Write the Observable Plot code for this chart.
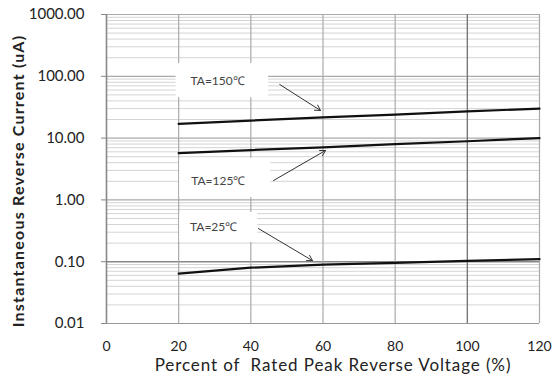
<!DOCTYPE html>
<html><head><meta charset="utf-8">
<script src="https://cdn.jsdelivr.net/npm/d3@7"></script>
<script src="https://cdn.jsdelivr.net/npm/@observablehq/plot@0.6"></script>
<style>body{margin:0;background:#fff} svg{display:block} .spaced text{letter-spacing:0.9px} .spacedy text{letter-spacing:1.2px}</style>
</head><body><div id="chart"></div>
<script>
const voltagePct = [20, 40, 60, 80, 100, 120];
const ta150 = [17, 19.2, 21.6, 24, 27, 30];
const ta125 = [5.7, 6.4, 7.1, 8.0, 8.9, 10.0];
const ta25 = [0.064, 0.080, 0.090, 0.096, 0.103, 0.110];
const seriesNames = ["TA=150℃", "TA=125℃", "TA=25℃"];
const xTicks = [0, 20, 40, 60, 80, 100, 120];
const yTicks = [0.01, 0.1, 1, 10, 100, 1000];
const yTickLabels = ["0.01", "0.10", "1.00", "10.00", "100.00", "1000.00"];
const xTitle = "Percent of  Rated Peak Reverse Voltage (%)";
const yTitle = "Instantaneous Reverse Current (uA)";
// annotation placement (data units)
const labelX = [30.8, 31, 29.7];
const labelY = [85, 2.0, 0.36];
const boxX1 = [19.3, 20.3, 20.3], boxX2 = [44.9, 45.5, 41.9];
const boxY1 = [45, 1.09, 0.205], boxY2 = [161, 4.7, 0.625];
const arrowX1 = [48, 46.3, 42.1], arrowY1 = [73.7, 2.06, 0.344];
const arrowX2 = [59.3, 60.7, 57.1], arrowY2 = [28, 6.3, 0.104];

const seriesVals = [ta150, ta125, ta25];
const lineData = [];
seriesNames.forEach((s, i) => voltagePct.forEach((x, j) => lineData.push({series: s, x, y: seriesVals[i][j]})));
const ann = seriesNames.map((s, i) => ({s, lx: labelX[i], ly: labelY[i], bx1: boxX1[i], bx2: boxX2[i], by1: boxY1[i], by2: boxY2[i],
  ax1: arrowX1[i], ay1: arrowY1[i], ax2: arrowX2[i], ay2: arrowY2[i]}));

const minor = [];
for (let d = 0.01; d < 1000; d *= 10) for (let m = 2; m <= 9; m++) minor.push(+(d * m).toPrecision(3));
const majorGrid = [1, 10, 100, 1000];

const FONT = "Lato, 'Liberation Sans', sans-serif";
const chart = Plot.plot({
  width: 556, height: 383,
  marginLeft: 106, marginRight: 17, marginTop: 14, marginBottom: 60,
  style: {fontFamily: FONT, background: "#fff"},
  x: {domain: [0, 120]},
  y: {type: "log", domain: [0.01, 1000]},
  marks: [
    Plot.ruleY(minor, {stroke: "#d4d4d4", strokeWidth: 1}),
    Plot.ruleY(majorGrid, {stroke: "#aaa", strokeWidth: 1.2}),
    Plot.ruleY([0.1], {stroke: "#888", strokeWidth: 1.4}),
    Plot.ruleY([0.01], {stroke: "#999", strokeWidth: 1.2}),
    Plot.ruleX([20, 40, 60, 80, 120], {stroke: "#aaa", strokeWidth: 1.2}),
    Plot.ruleX([100], {stroke: "#777", strokeWidth: 1.4}),
    Plot.ruleX([0], {stroke: "#888", strokeWidth: 1.6}),
    Plot.rect(ann, {x1: "bx1", x2: "bx2", y1: "by1", y2: "by2", fill: "#fff"}),
    Plot.line(lineData, {x: "x", y: "y", z: "series", stroke: "#111", strokeWidth: 2.2}),
    Plot.arrow(ann, {x1: "ax1", y1: "ay1", x2: "ax2", y2: "ay2", stroke: "#333", strokeWidth: 1, headLength: 9, bend: 0}),
    Plot.text(ann, {x: "lx", y: "ly", text: "s", fontSize: 12, fill: "#444"}),
    Plot.axisY({ticks: yTicks, tickFormat: (d) => yTickLabels[yTicks.indexOf(d)], tickSize: 5, tickPadding: 17,
      fontSize: 15, stroke: "#888", fill: "#222", label: null}),
    Plot.axisX({ticks: xTicks, tickSize: 0, tickPadding: 18, fontSize: 14, fill: "#222", label: null}),
    Plot.text([xTitle], {frameAnchor: "bottom", dx: 10, dy: 47, fontSize: 17, fill: "#222", className: "spaced"}),
    Plot.text([yTitle], {frameAnchor: "left", textAnchor: "middle", rotate: -90, dx: -88, dy: 12, fontSize: 16, fill: "#222", fontWeight: "bold", className: "spacedy"})
  ]
});
document.getElementById("chart").appendChild(chart);
</script>
</body></html>
